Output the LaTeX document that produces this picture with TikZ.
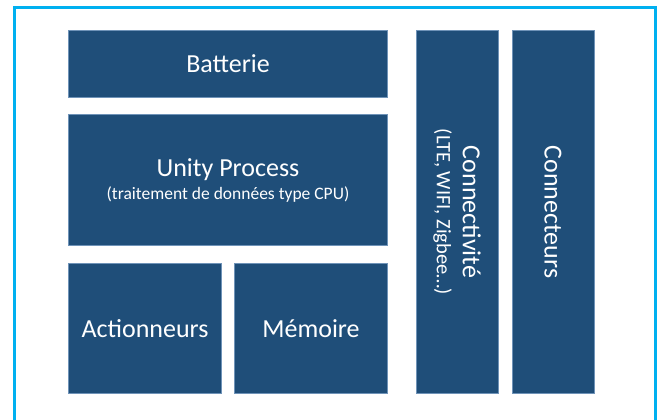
\documentclass[tikz,border=0pt]{standalone}
\usepackage{fontspec}
\setmainfont{Carlito}
\usepackage{tikz}
\definecolor{navy}{HTML}{1F4E79}
\definecolor{edgeblue}{HTML}{6F93B8}
\definecolor{framecyan}{HTML}{00B0F0}
\tikzset{
BLOCK/.style={draw=edgeblue,fill=navy,line width=0.6bp,text=white,align=center,inner sep=0pt,font=\fontsize{26bp}{30bp}\selectfont},
FRAME/.style={draw=framecyan,line width=3bp},
}
\newcommand{\subline}[2]{{\fontsize{#1}{21bp}\selectfont #2}}

\begin{document}
\begin{tikzpicture}
[x=1bp, y=-1bp]
	\useasboundingbox[fill=white] (0,0) rectangle (660,419);
	\clip (0,0) rectangle (660,419);
	\path[FRAME] (14.7,430) -- (14.7,7.5) -- (655,7.5) -- (655,430);
	\node[BLOCK, minimum width=320, minimum height=67] (batterie) at (228,63.5) {Batterie};
	\node[BLOCK, minimum width=320, minimum height=132] (unity) at (228,180)
		{\raisebox{-4bp}{Unity Process}\\[-7bp]\raisebox{-4bp}{\subline{17.5bp}{(traitement de données type CPU)}}};
	\node[BLOCK, minimum width=154, minimum height=131] (actionneurs) at (145,328.5) {Actionneurs};
	\node[BLOCK, minimum width=154, minimum height=131] (memoire) at (311,328.5) {Mémoire};
	\node[BLOCK, rotate=-90, minimum width=364, minimum height=82] (connectivite) at (457,212)
		{Connectivité\\[-4bp]\subline{20.5bp}{(LTE, WIFI, Zigbee…)}};
	\node[BLOCK, rotate=-90, minimum width=364, minimum height=82] (connecteurs) at (553,212) {Connecteurs};
\end{tikzpicture}
\end{document}
